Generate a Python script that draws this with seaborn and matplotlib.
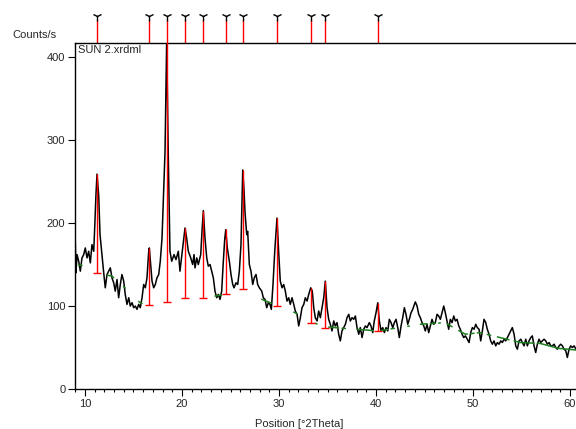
import numpy as np
import pandas as pd
import seaborn as sns
import matplotlib.pyplot as plt

two_theta = [
    9.00, 9.07, 9.18, 9.35, 9.52, 9.69, 9.87, 10.03, 10.21, 10.38, 10.55, 10.72, 10.90, 11.00,
    11.13, 11.24, 11.41, 11.55, 11.68, 11.82, 11.93, 12.09, 12.27, 12.44, 12.61, 12.78, 12.96,
    13.12, 13.30, 13.47, 13.64, 13.81, 13.99, 14.15, 14.33, 14.51, 14.67, 14.85, 15.02, 15.19,
    15.36, 15.54, 15.70, 15.88, 16.05, 16.22, 16.39, 16.57, 16.63, 16.77, 16.91, 17.08, 17.25,
    17.42, 17.60, 17.76, 17.94, 18.07, 18.25, 18.42, 18.58, 18.76, 18.94, 19.18, 19.38, 19.62,
    19.79, 20.07, 20.31, 20.48, 20.65, 20.90, 21.10, 21.24, 21.34, 21.52, 21.68, 21.93, 22.06,
    22.20, 22.37, 22.55, 22.71, 22.89, 23.06, 23.23, 23.40, 23.58, 23.74, 23.92, 24.09, 24.26,
    24.40, 24.51, 24.67, 24.88, 25.05, 25.23, 25.36, 25.57, 25.74, 25.91, 26.08, 26.26, 26.39,
    26.49, 26.67, 26.77, 26.94, 27.11, 27.29, 27.45, 27.63, 27.80, 27.97, 28.22, 28.38, 28.56,
    28.73, 28.90, 29.07, 29.21, 29.38, 29.56, 29.79, 29.96, 30.13, 30.31, 30.48, 30.65, 30.82,
    31.00, 31.16, 31.34, 31.52, 31.68, 31.86, 32.03, 32.20, 32.37, 32.55, 32.71, 32.89, 33.06,
    33.27, 33.43, 33.58, 33.74, 33.92, 34.09, 34.26, 34.43, 34.61, 34.77, 34.95, 35.12, 35.29,
    35.46, 35.64, 35.80, 35.98, 36.15, 36.32, 36.49, 36.67, 36.84, 37.01, 37.19, 37.35, 37.53,
    37.70, 37.87, 38.04, 38.22, 38.38, 38.56, 38.73, 38.90, 39.07, 39.31, 39.48, 39.66, 39.82,
    40.00, 40.18, 40.34, 40.52, 40.69, 40.86, 41.03, 41.21, 41.37, 41.55, 41.72, 41.89, 42.06,
    42.24, 42.40, 42.58, 42.75, 42.92, 43.09, 43.27, 43.43, 43.61, 43.78, 44.05, 44.23, 44.40,
    44.57, 44.74, 44.92, 45.08, 45.26, 45.43, 45.60, 45.77, 45.95, 46.11, 46.29, 46.46, 46.63,
    46.80, 46.98, 47.14, 47.32, 47.49, 47.66, 47.84, 48.01, 48.18, 48.35, 48.53, 48.69, 48.87,
    49.04, 49.21, 49.41, 49.59, 49.76, 49.93, 50.10, 50.28, 50.44, 50.62, 50.79, 50.96, 51.13,
    51.31, 51.47, 51.65, 51.82, 51.99, 52.16, 52.34, 52.51, 52.68, 52.86, 53.02, 53.20, 53.37,
    53.54, 53.71, 53.89, 54.05, 54.23, 54.40, 54.57, 54.74, 54.92, 55.08, 55.26, 55.43, 55.60,
    55.77, 55.95, 56.11, 56.29, 56.46, 56.63, 56.80, 56.98, 57.14, 57.32, 57.49, 57.66, 57.84,
    58.01, 58.18, 58.35, 58.53, 58.69, 58.87, 59.04, 59.21, 59.38, 59.56, 59.72, 59.90, 60.07,
    60.24, 60.41, 60.62, 60.80, 61.00,
]
counts = [
    178, 140, 162, 154, 142, 158, 162, 170, 158, 166, 152, 174, 166, 194,
    234, 259, 234, 186, 170, 154, 140, 122, 138, 142, 146, 134, 128,
    118, 132, 110, 126, 138, 130, 114, 102, 110, 100, 104, 98, 100,
    96, 102, 98, 110, 126, 122, 134, 166, 170, 150, 130, 122, 126,
    134, 138, 154, 182, 226, 286, 420, 286, 166, 154, 162, 156, 166,
    142, 170, 194, 182, 166, 158, 150, 162, 146, 158, 150, 162, 190,
    215, 182, 158, 148, 150, 142, 134, 118, 110, 114, 108, 118, 154,
    180, 192, 170, 154, 138, 126, 122, 128, 126, 142, 174, 264, 240,
    214, 186, 190, 150, 142, 126, 134, 138, 126, 122, 118, 110, 108,
    98, 104, 102, 96, 126, 166, 206, 166, 130, 122, 126, 118, 106,
    110, 102, 110, 102, 94, 90, 76, 86, 98, 102, 110, 106, 114,
    122, 118, 98, 86, 82, 94, 86, 98, 110, 130, 98, 84, 78,
    70, 82, 76, 80, 66, 58, 70, 74, 78, 86, 90, 82, 86,
    84, 88, 74, 66, 74, 62, 72, 76, 74, 80, 76, 68, 82,
    92, 104, 82, 70, 74, 68, 74, 70, 84, 80, 74, 80, 84,
    74, 62, 76, 86, 98, 90, 78, 84, 92, 96, 105, 100, 90,
    86, 80, 76, 70, 78, 68, 76, 84, 78, 80, 90, 88, 84,
    92, 100, 92, 82, 72, 84, 80, 88, 82, 84, 76, 72, 66,
    62, 64, 60, 56, 68, 74, 72, 78, 74, 72, 58, 70, 84,
    80, 72, 66, 58, 54, 58, 52, 56, 54, 58, 56, 60, 58,
    62, 66, 70, 74, 66, 52, 48, 58, 60, 56, 52, 60, 52,
    58, 62, 64, 52, 44, 54, 60, 56, 58, 60, 58, 54, 56,
    52, 52, 54, 50, 48, 52, 54, 52, 48, 46, 38, 48, 52,
    50, 52, 48, 44, 50,
]

# fitted background
bg_theta = [8.97, 10.2, 10.7, 11.24, 12.78, 14.12, 15.67, 16.6, 17.2, 18.45, 20.31, 22.16,
            24.54, 26.29, 27.84, 29.07, 29.79, 31.65, 33.30, 34.74, 36.80, 40.21, 44.54,
            47.1, 49.2, 50.72, 52.78, 54.9, 56.9, 58.8, 60.62, 61.8]
bg_counts = [150, 148, 144, 140, 136, 122, 104, 101, 102, 105, 108, 110,
             114, 118, 110, 104, 101, 92, 81, 75, 73, 70, 78,
             80, 66, 68, 62, 56, 55, 49, 47, 46]

# identified peaks
peak_pos = [11.24, 16.63, 18.42, 20.31, 22.20, 24.51, 26.26, 29.79, 33.27, 34.77, 40.18]
peak_top = [259, 170, 420, 194, 215, 193, 264, 206, 122, 130, 104]
peak_base = [140, 101, 105, 110, 110, 115, 120, 100, 80, 74, 70]

sns.set_style("ticks")
plt.rcParams["font.family"] = ["Liberation Sans", "DejaVu Sans"]

fig = plt.figure(figsize=(5.76, 4.29), dpi=100)
ax = fig.add_axes([0.1302, 0.0932, 0.8898, 0.8066])

df = pd.DataFrame({"two_theta": two_theta, "counts": counts})
sns.lineplot(data=df, x="two_theta", y="counts", color="black", lw=1.1, ax=ax,
             sort=False, estimator=None)

# background only shows where the profile lies on it
bg_at = np.interp(df["two_theta"], bg_theta, bg_counts)
bg_vis = np.where(np.abs(df["counts"] - bg_at) < 10, bg_at, np.nan)
ax.plot(df["two_theta"], bg_vis, color="#1e7d1e", lw=1.1, zorder=3)

# peak sticks
ax.vlines(peak_pos, peak_base, peak_top, color="red", lw=1.0, zorder=4)
ax.plot(peak_pos, peak_base, ls="none", marker="_", ms=6, mew=1.0, color="red", zorder=4)

# peak markers above the frame
tr = ax.get_xaxis_transform()
ax.vlines(peak_pos, 1.0, 1.066, color="red", lw=1.0, transform=tr, clip_on=False)
ax.plot(peak_pos, [1.078] * len(peak_pos), ls="none", marker="1", ms=7, mew=1.0,
        color="black", transform=tr, clip_on=False)

ax.set_xlim(8.97, 61.8)
ax.set_ylim(0, 417)
ax.set_xticks([10, 20, 30, 40, 50, 60])
ax.set_xticks(range(9, 62), minor=True)
ax.set_yticks([0, 100, 200, 300, 400])
ax.tick_params(axis="both", which="major", direction="out", length=5, width=0.8,
               labelsize=8, pad=2, color="black")
ax.tick_params(axis="x", which="minor", direction="out", length=2.5, width=0.8, color="black")
ax.set_xlabel("")
ax.set_ylabel("")

for side in ["left", "bottom", "top"]:
    ax.spines[side].set_visible(True)
    ax.spines[side].set_color("black")
    ax.spines[side].set_linewidth(1.0)
ax.spines["right"].set_visible(False)

ax.text(0.006, 0.995, "SUN 2.xrdml", transform=ax.transAxes, ha="left", va="top", fontsize=8)
fig.text(0.021, 0.918, "Counts/s", ha="left", va="center", fontsize=8)
fig.text(0.519, 0.012, "Position [°2Theta]", ha="center", va="center", fontsize=8)

fig.savefig("out.png", dpi=100)
